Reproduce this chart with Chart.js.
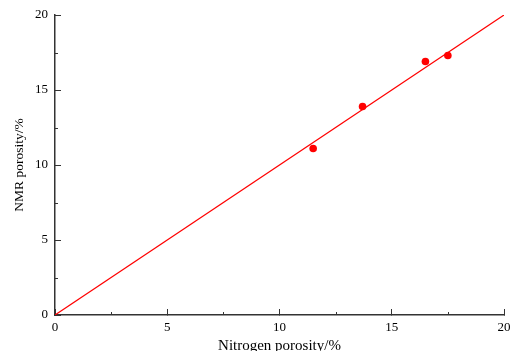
<!DOCTYPE html>
<html>
<head>
<meta charset="utf-8">
<script src="https://cdn.jsdelivr.net/npm/chart.js@4.4.1/dist/chart.umd.min.js"></script>
<style>
  html, body { margin: 0; padding: 0; background: #fff; }
  #wrap { width: 511px; height: 351px; position: relative; }
</style>
</head>
<body>
<div id="wrap"><canvas id="c" width="511" height="351"></canvas></div>
<script>
// Data
const nitrogenPorosity = [11.5, 13.7, 16.5, 17.5];
const nmrPorosity = [11.1, 13.9, 16.9, 17.3];
const fitX = [0, 20];
const fitY = [0, 20];
const xTicks = [0, 5, 10, 15, 20];
const yTicks = [0, 5, 10, 15, 20];
const minorTicks = [2.5, 7.5, 12.5, 17.5];

const FONT = '"Liberation Serif", "Times New Roman", serif';
const AXIS_COLOR = '#333333';

const minorTickPlugin = {
  id: 'minorTicks',
  afterDraw(chart) {
    const ctx = chart.ctx;
    const xs = chart.scales.x, ys = chart.scales.y;
    const area = chart.chartArea;
    ctx.save();
    ctx.strokeStyle = AXIS_COLOR;
    ctx.lineWidth = 1;
    ctx.beginPath();
    minorTicks.forEach(v => {
      const px = Math.round(xs.getPixelForValue(v)) + 0.5;
      ctx.moveTo(px, area.bottom);
      ctx.lineTo(px, area.bottom - 3);
      const py = Math.round(ys.getPixelForValue(v)) + 0.5;
      ctx.moveTo(area.left, py);
      ctx.lineTo(area.left + 3, py);
    });
    ctx.stroke();
    ctx.restore();
  }
};

new Chart(document.getElementById('c'), {
  type: 'scatter',
  data: {
    datasets: [
      {
        label: 'Samples',
        data: nitrogenPorosity.map((x, i) => ({ x: x, y: nmrPorosity[i] })),
        backgroundColor: '#ff0000',
        borderColor: '#ff0000',
        pointRadius: 3.8,
        pointBorderWidth: 0,
        order: 0
      },
      {
        label: 'y = x',
        data: fitX.map((x, i) => ({ x: x, y: fitY[i] })),
        showLine: true,
        borderColor: '#ff0000',
        borderWidth: 1.2,
        pointRadius: 0,
        fill: false,
        order: 1
      }
    ]
  },
  options: {
    responsive: false,
    animation: false,
    devicePixelRatio: 1,
    layout: { padding: { left: 0, right: 7, top: 15, bottom: 0 } },
    plugins: { legend: { display: false }, tooltip: { enabled: false } },
    scales: {
      x: {
        type: 'linear',
        min: 0, max: 20,
        afterFit(s) { s.height = 36; s.paddingLeft = 0; s.paddingRight = 0; },
        afterBuildTicks(s) { s.ticks = xTicks.map(v => ({ value: v })); },
        ticks: { font: { family: FONT, size: 13 }, color: '#000', padding: 11, maxRotation: 0, autoSkip: false },
        grid: { drawOnChartArea: false, drawTicks: true, tickLength: -6, tickColor: AXIS_COLOR, tickWidth: 1 },
        border: { display: true, color: AXIS_COLOR, width: 1.5 },
        title: { display: true, text: 'Nitrogen porosity/%', font: { family: FONT, size: 15 }, color: '#000', padding: { top: 0, bottom: -4 } }
      },
      y: {
        type: 'linear',
        min: 0, max: 20,
        afterFit(s) { s.width = 55; s.paddingTop = 0; s.paddingBottom = 0; },
        afterBuildTicks(s) { s.ticks = yTicks.map(v => ({ value: v })); },
        ticks: { font: { family: FONT, size: 13 }, color: '#000', padding: 13, autoSkip: false },
        grid: { drawOnChartArea: false, drawTicks: true, tickLength: -6, tickColor: AXIS_COLOR, tickWidth: 1 },
        border: { display: true, color: AXIS_COLOR, width: 1.5 },
        title: { display: true, text: 'NMR porosity/%', font: { family: FONT, size: 13.5 }, color: '#000', padding: { top: 11.5, bottom: 0 } }
      }
    }
  },
  plugins: [minorTickPlugin]
});
</script>
</body>
</html>
